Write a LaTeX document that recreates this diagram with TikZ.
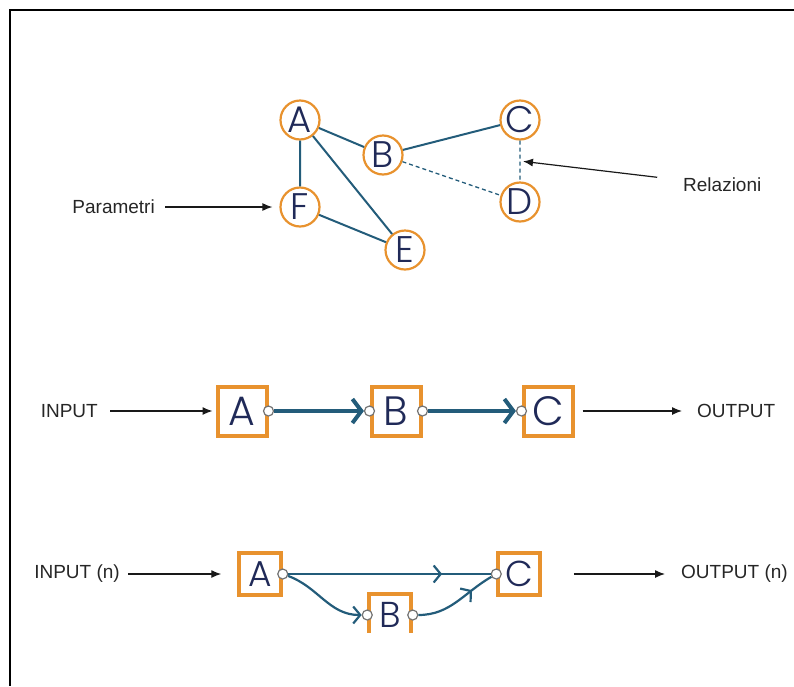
\documentclass[tikz,border=0pt]{standalone}
\usepackage{fontspec}
\setmainfont{Liberation Sans}
\newfontfamily\letterfont{Poppins}[UprightFont=* Light]
\usetikzlibrary{arrows.meta,decorations.markings}
\definecolor{boxorange}{RGB}{232,146,46}
\definecolor{linkblue}{RGB}{35,92,122}
\definecolor{letternavy}{RGB}{32,42,88}
\tikzset{
  vertex/.style={circle, draw=boxorange, line width=2.2pt, fill=white, minimum size=39pt, inner sep=0pt, text=letternavy, font=\letterfont\fontsize{37}{37}\selectfont},
  block/.style={rectangle, draw=boxorange, line width=4pt, fill=white, minimum size=49pt, inner sep=0pt, text=letternavy, font=\letterfont\fontsize{41}{41}\selectfont},
  smallblock/.style={block, line width=3.5pt, minimum size=42pt, font=\letterfont\fontsize{36}{36}\selectfont},
  port/.style={circle, draw=black!55, fill=white, line width=1.2pt, minimum size=10pt, inner sep=0pt},
  txt/.style={inner sep=0pt, text=black!85, font=\fontsize{19}{19}\selectfont},
  link/.style={linkblue, line width=2pt},
  weak/.style={linkblue, line width=1.3pt, dash pattern=on 4pt off 3pt},
  pointer/.style={black!90, line width=1.2pt, -{Latex[length=10pt,width=8pt]}},
  flow/.style={linkblue, line width=4pt, -{Straight Barb[length=9pt,width=24pt]}},
  thinflow/.style={linkblue, line width=2.2pt, -{Straight Barb[length=7pt,width=17pt]}},
  midflow/.style={linkblue, line width=2.2pt, decoration={markings, mark=at position #1 with {\arrow{Straight Barb[length=7pt,width=17pt]}}}, postaction={decorate}},
}
\begin{document}
\begin{tikzpicture}[x=1pt,y=-1pt]
\useasboundingbox (0,0) rectangle (794,686);

% frame
\draw [line width=1.2pt] (794,10) -- (10,10) -- (10,686);

% graph
\node [vertex] (A) at (300,120) {A};
\node [vertex] (B) at (383,155) {B};
\node [vertex] (C) at (520,120) {C};
\node [vertex] (D) at (520,202) {D};
\node [vertex] (F) at (300,207) {F};
\node [vertex] (E) at (405,250) {E};
\draw [link]
(A) -- (B)
(A) -- (F)
(A) -- (E)
(F) -- (E)
(B) -- (C);
\draw [weak]
(B) -- (D)
(C) -- (D);
\path (C) -- (D) coordinate[pos=.5] (CD);

\node [txt, anchor=east] (par) at (155,207) {Parametri};
\draw [pointer, shorten <=10pt, shorten >=7pt] (par) -- (F);
\node [txt, anchor=west] (rel) at (683,185) {Relazioni};
\draw [pointer, shorten <=26pt, shorten >=3pt] (rel) -- (CD);

% chain
\node [block] (A2) at (242,411) {A};
\node [block] (B2) at (396,411) {B};
\node [block] (C2) at (548,411) {C};
\node [port] (pA2) at (A2.east) {};
\node [port] (pBl2) at (B2.west) {};
\node [port] (pBr2) at (B2.east) {};
\node [port] (pC2) at (C2.west) {};
\draw [flow] (pA2) -- (pBl2);
\draw [flow] (pBr2) -- (pC2);

\node [txt, anchor=east] (in2) at (98,411) {INPUT};
\draw [pointer, shorten <=12pt, shorten >=3pt] (in2) -- (A2);
\node [txt, anchor=west] (out2) at (697,411) {OUTPUT};
\draw [pointer, shorten <=8pt, shorten >=15pt] (C2) -- (out2);

% branch
\node [smallblock] (A3) at (260,574) {A};
\node [smallblock] (C3) at (519,574) {C};
\begin{scope}
\clip (0,0) rectangle (794,632);
\node [smallblock] (B3) at (390,615) {B};
\end{scope}
\node [port] (pA3) at (A3.east) {};
\node [port] (pC3) at (C3.west) {};
\node [port] (pBl3) at (B3.west) {};
\node [port] (pBr3) at (B3.east) {};
\draw [midflow=0.76] (pA3) -- (pC3);
\draw [thinflow] (pA3) to[out=-20,in=180] (pBl3);
\draw [midflow=0.72] (pBr3) to[out=0,in=210] (pC3);

\node [txt, anchor=east] (in3) at (120,574) {INPUT (n)};
\draw [pointer, shorten <=8pt, shorten >=16pt] (in3) -- (A3);
\node [txt, anchor=west] (out3) at (681,574) {OUTPUT (n)};
\draw [pointer, shorten <=32pt, shorten >=16pt] (C3) -- (out3);

\end{tikzpicture}
\end{document}
